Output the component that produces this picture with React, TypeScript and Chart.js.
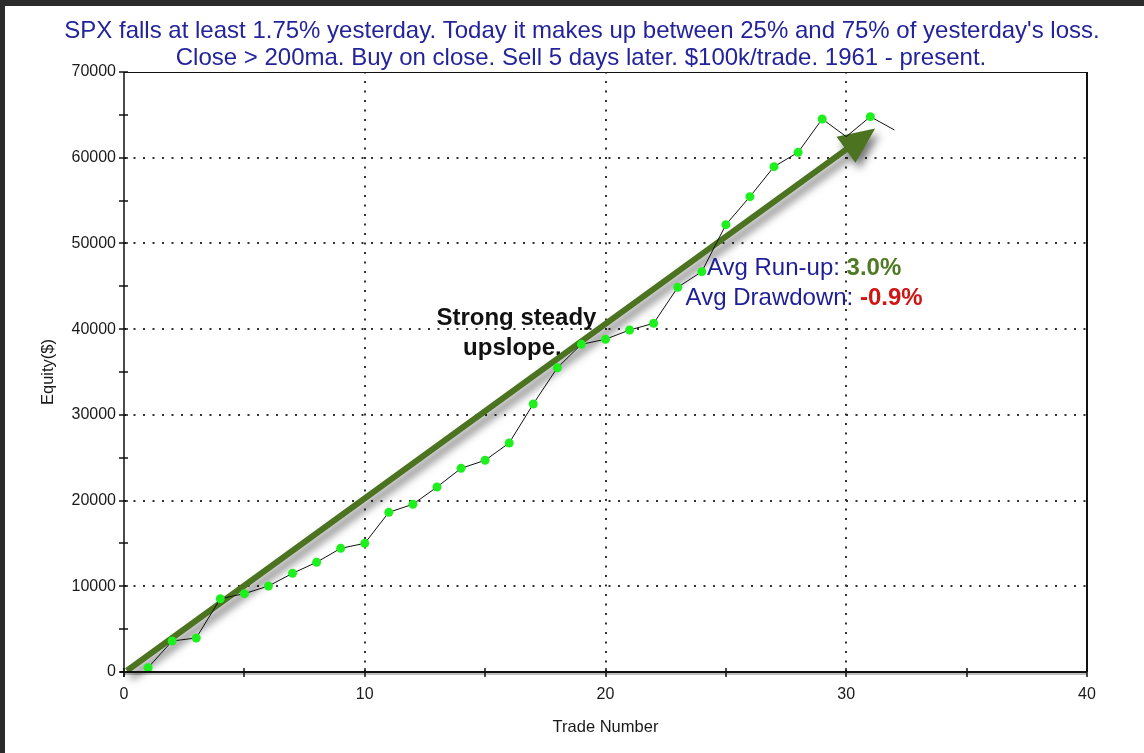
import React, { useEffect, useRef } from "react";
import { Chart, registerables } from "chart.js";

Chart.register(...registerables);

// ---- data ----
const tradeNumbers = [1, 2, 3, 4, 5, 6, 7, 8, 9, 10, 11, 12, 13, 14, 15, 16, 17, 18, 19, 20, 21, 22, 23, 24, 25, 26, 27, 28, 29, 30, 31, 32];
const equity = [500, 3620, 3970, 8550, 9140, 10030, 11510, 12800, 14430, 15010, 18630, 19570, 21580, 23760, 24700, 26720, 31270, 35500, 38230, 38820, 39900, 40680, 44880, 46710, 52190, 55460, 58960, 60630, 64520, 62460, 64790, 63240];
const xTicks = [0, 10, 20, 30, 40];
const yTicks = [0, 10000, 20000, 30000, 40000, 50000, 60000, 70000];
const titleLines = [
  "SPX falls at least 1.75% yesterday. Today it makes up between 25% and 75% of yesterday's loss.",
  "Close > 200ma. Buy on close. Sell 5 days later. $100k/trade. 1961 - present.",
];
const xAxisTitle = "Trade Number";
const yAxisTitle = "Equity($)";
const noteLines = ["Strong steady", "upslope."];
const runUpLabel = "Avg Run-up: ";
const runUpValue = "3.0%";
const drawdownLabel = "Avg Drawdown: ";
const drawdownValue = "-0.9%";
// arrow endpoints in data coordinates [trade, equity]
const arrowStart = [0.12, 150];
const arrowEnd = [31.2, 63400];
// annotation anchors in data coordinates
const noteAnchor = [16.3, 41300];
const statsAnchor = [28.25, 47100];

const FONT = "'Liberation Sans', Arial, sans-serif";

export default function App() {
  const ref = useRef<HTMLCanvasElement | null>(null);

  useEffect(() => {
    document.body.style.margin = "0";
    const canvas = ref.current;
    if (!canvas) return;

    // mark points that are new equity highs
    let peak = -Infinity;
    const radii = equity.map((v) => {
      if (v > peak) {
        peak = v;
        return 4.5;
      }
      return 0;
    });

    const decor = {
      id: "decor",
      beforeDraw(chart: any) {
        const { ctx, width, height } = chart;
        ctx.save();
        ctx.fillStyle = "#ffffff";
        ctx.fillRect(0, 0, width, height);
        ctx.fillStyle = "#2b2b2b";
        ctx.fillRect(0, 0, width, 6);
        ctx.fillRect(0, 0, 5, height);
        // title
        ctx.fillStyle = "#23239c";
        ctx.font = `24px ${FONT}`;
        ctx.textAlign = "center";
        ctx.textBaseline = "middle";
        ctx.fillText(titleLines[0], 582, 31);
        ctx.fillText(titleLines[1], 581, 58);
        ctx.restore();
      },
      beforeDatasetsDraw(chart: any) {
        const { ctx, chartArea } = chart;
        const xs = chart.scales.x;
        const ys = chart.scales.y;
        ctx.save();
        // dotted grid
        ctx.strokeStyle = "#333333";
        ctx.lineWidth = 2;
        ctx.setLineDash([2, 7.5]);
        [10, 20, 30].forEach((v) => {
          const px = Math.round(xs.getPixelForValue(v));
          ctx.beginPath();
          ctx.moveTo(px, chartArea.bottom);
          ctx.lineTo(px, chartArea.top);
          ctx.stroke();
        });
        [10000, 20000, 30000, 40000, 50000, 60000].forEach((v) => {
          const py = Math.round(ys.getPixelForValue(v));
          ctx.beginPath();
          ctx.moveTo(chartArea.left, py);
          ctx.lineTo(chartArea.right, py);
          ctx.stroke();
        });
        ctx.setLineDash([]);

        // note text
        ctx.fillStyle = "#111111";
        ctx.font = `bold 24px ${FONT}`;
        ctx.textAlign = "center";
        ctx.textBaseline = "middle";
        const nx = xs.getPixelForValue(noteAnchor[0]);
        const ny = ys.getPixelForValue(noteAnchor[1]);
        ctx.fillText(noteLines[0], nx, ny);
        ctx.fillText(noteLines[1], nx - 4, ny + 30);

        // arrow
        const x0 = xs.getPixelForValue(arrowStart[0]);
        const y0 = ys.getPixelForValue(arrowStart[1]);
        const x1 = xs.getPixelForValue(arrowEnd[0]);
        const y1 = ys.getPixelForValue(arrowEnd[1]);
        const ang = Math.atan2(y1 - y0, x1 - x0);
        const c = Math.cos(ang);
        const s = Math.sin(ang);
        const headLen = 36;
        const headW = 16;
        const sw = 3;
        const bx = x1 - headLen * c;
        const by = y1 - headLen * s;
        ctx.shadowColor = "rgba(0,0,0,0.55)";
        ctx.shadowBlur = 9;
        ctx.shadowOffsetX = 4;
        ctx.shadowOffsetY = 6;
        ctx.fillStyle = "#4b7320";
        ctx.beginPath();
        ctx.moveTo(x0 - sw * s, y0 + sw * c);
        ctx.lineTo(bx - sw * s, by + sw * c);
        ctx.lineTo(bx - headW * s, by + headW * c);
        ctx.lineTo(x1, y1);
        ctx.lineTo(bx + headW * s, by - headW * c);
        ctx.lineTo(bx + sw * s, by - sw * c);
        ctx.lineTo(x0 + sw * s, y0 - sw * c);
        ctx.closePath();
        ctx.fill();
        ctx.restore();
      },
      afterDatasetsDraw(chart: any) {
        const { ctx } = chart;
        const xs = chart.scales.x;
        const ys = chart.scales.y;
        ctx.save();
        ctx.textBaseline = "middle";
        ctx.textAlign = "left";
        const cx = xs.getPixelForValue(statsAnchor[0]);
        const cy = ys.getPixelForValue(statsAnchor[1]);
        const drawPair = (label: string, value: string, color: string, y: number) => {
          ctx.font = `24px ${FONT}`;
          const w1 = ctx.measureText(label).width;
          ctx.font = `bold 24px ${FONT}`;
          const w2 = ctx.measureText(value).width;
          const start = cx - (w1 + w2) / 2;
          ctx.font = `24px ${FONT}`;
          ctx.fillStyle = "#1e1e96";
          ctx.fillText(label, start, y);
          ctx.font = `bold 24px ${FONT}`;
          ctx.fillStyle = color;
          ctx.fillText(value, start + w1, y);
        };
        drawPair(runUpLabel, runUpValue, "#4d7a22", cy);
        drawPair(drawdownLabel, drawdownValue, "#d01515", cy + 30);
        ctx.restore();
      },
      afterDraw(chart: any) {
        const { ctx, chartArea } = chart;
        const xs = chart.scales.x;
        const ys = chart.scales.y;
        const { left, right, top, bottom } = chartArea;
        ctx.save();
        ctx.strokeStyle = "#111111";
        // top border
        ctx.lineWidth = 1;
        ctx.beginPath();
        ctx.moveTo(left, top + 0.5);
        ctx.lineTo(right, top + 0.5);
        ctx.stroke();
        // right border
        ctx.lineWidth = 2;
        ctx.beginPath();
        ctx.moveTo(right, top);
        ctx.lineTo(right, bottom);
        ctx.stroke();
        // left axis
        ctx.lineWidth = 1.5;
        ctx.beginPath();
        ctx.moveTo(left, top);
        ctx.lineTo(left, bottom + 5);
        ctx.stroke();
        // bottom axis with soft shadow
        ctx.strokeStyle = "rgba(0,0,0,0.25)";
        ctx.lineWidth = 2;
        ctx.beginPath();
        ctx.moveTo(left, bottom + 2);
        ctx.lineTo(right, bottom + 2);
        ctx.stroke();
        ctx.strokeStyle = "#111111";
        ctx.beginPath();
        ctx.moveTo(left - 4, bottom);
        ctx.lineTo(right, bottom);
        ctx.stroke();
        // ticks
        ctx.lineWidth = 1.5;
        for (let v = 0; v <= 40; v += 5) {
          const px = Math.round(xs.getPixelForValue(v));
          ctx.beginPath();
          ctx.moveTo(px, bottom - 4);
          ctx.lineTo(px, bottom + 5);
          ctx.stroke();
        }
        for (let v = 0; v <= 70000; v += 5000) {
          const py = Math.round(ys.getPixelForValue(v));
          ctx.beginPath();
          ctx.moveTo(left - 5, py);
          ctx.lineTo(left + 4, py);
          ctx.stroke();
        }
        // axis titles
        ctx.fillStyle = "#1a1a1a";
        ctx.font = `16.5px ${FONT}`;
        ctx.textAlign = "center";
        ctx.textBaseline = "middle";
        ctx.fillText(xAxisTitle, (left + right) / 2, 727);
        ctx.translate(48, (top + bottom) / 2);
        ctx.rotate(-Math.PI / 2);
        ctx.fillText(yAxisTitle, 0, 0);
        ctx.restore();
      },
    };

    const chart = new Chart(canvas, {
      type: "line",
      data: {
        labels: tradeNumbers,
        datasets: [
          {
            data: tradeNumbers.map((t, i) => ({ x: t, y: equity[i] })),
            borderColor: "#111111",
            borderWidth: 1,
            pointRadius: radii,
            pointHoverRadius: radii,
            pointBackgroundColor: "#1ef01e",
            pointBorderWidth: 0,
            tension: 0,
            fill: false,
          },
        ],
      },
      options: {
        animation: false,
        responsive: false,
        maintainAspectRatio: false,
        layout: { padding: { left: 0, top: 72, right: 57, bottom: 0 } },
        plugins: { legend: { display: false }, tooltip: { enabled: false }, title: { display: false } },
        scales: {
          x: {
            type: "linear",
            min: 0,
            max: 40,
            afterBuildTicks(scale: any) {
              scale.ticks = xTicks.map((v) => ({ value: v }));
            },
            afterFit(scale: any) {
              scale.height = 81;
            },
            grid: { display: true, drawOnChartArea: false, drawTicks: false },
            border: { display: false },
            ticks: {
              padding: 13,
              color: "#1a1a1a",
              font: { family: FONT, size: 16 },
              maxRotation: 0,
              autoSkip: false,
            },
          },
          y: {
            type: "linear",
            min: 0,
            max: 70000,
            afterBuildTicks(scale: any) {
              scale.ticks = yTicks.map((v) => ({ value: v }));
            },
            afterFit(scale: any) {
              scale.width = 124;
            },
            grid: { display: true, drawOnChartArea: false, drawTicks: false },
            border: { display: false },
            ticks: {
              padding: 8,
              color: "#1a1a1a",
              font: { family: FONT, size: 16 },
              autoSkip: false,
              callback: (v: any) => String(v),
            },
          },
        },
      },
      plugins: [decor],
    });

    return () => chart.destroy();
  }, []);

  return (
    <div style={{ width: 1144, height: 753 }}>
      <canvas ref={ref} width={1144} height={753} style={{ display: "block" }} />
    </div>
  );
}
